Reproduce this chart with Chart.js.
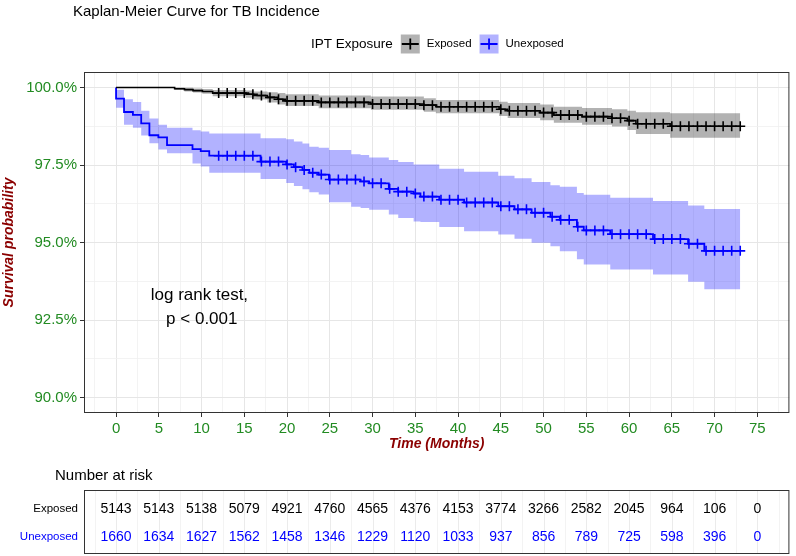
<!DOCTYPE html>
<html>
<head>
<meta charset="utf-8">
<title>Kaplan-Meier Curve for TB Incidence</title>
<script src="https://cdn.jsdelivr.net/npm/chart.js@4.4.1/dist/chart.umd.min.js"></script>
<style>
  html, body { margin: 0; padding: 0; background: #fff; }
  #km { display: block; }
</style>
</head>
<body>
<canvas id="km" width="796" height="556"></canvas>
<script>
// KM steps: time (months) and survival (%)
const exposedTime  = [0, 6.85, 8.0, 9.0, 10.1, 11.3, 15.2, 16.1, 17.7, 18.9, 19.8, 23.7, 29.8, 36.0, 37.4, 44.8, 45.8, 49.6, 51.2, 54.5, 58.0, 59.8, 60.8, 64.8, 73.0];
const exposedSurv  = [100, 99.96, 99.93, 99.90, 99.87, 99.82, 99.78, 99.74, 99.68, 99.62, 99.57, 99.52, 99.47, 99.43, 99.38, 99.30, 99.25, 99.19, 99.11, 99.06, 99.01, 98.93, 98.83, 98.75, 98.75];
const exposedUpper = [100, 100, 99.99, 99.97, 99.95, 99.92, 99.90, 99.87, 99.85, 99.82, 99.78, 99.74, 99.71, 99.65, 99.60, 99.54, 99.50, 99.45, 99.38, 99.34, 99.30, 99.25, 99.20, 99.17, 99.17];
const exposedLower = [100, 99.92, 99.87, 99.84, 99.80, 99.72, 99.67, 99.61, 99.52, 99.45, 99.40, 99.33, 99.28, 99.22, 99.17, 99.08, 99.02, 98.94, 98.86, 98.80, 98.74, 98.63, 98.50, 98.38, 98.38];

const unexposedTime  = [0, 0, 0.93, 1.97, 2.94, 3.90, 4.95, 5.96, 8.94, 9.90, 10.9, 16.9, 19.9, 20.8, 21.8, 22.6, 23.7, 24.9, 27.5, 28.6, 29.6, 31.9, 33.0, 34.8, 35.6, 37.8, 40.7, 44.7, 46.6, 48.6, 50.8, 51.9, 53.9, 54.7, 57.8, 62.8, 66.9, 68.8, 73.0];
const unexposedSurv  = [100, 99.64, 99.21, 99.12, 98.84, 98.46, 98.39, 98.14, 98.01, 97.95, 97.80, 97.61, 97.52, 97.43, 97.34, 97.25, 97.19, 97.03, 97.03, 96.97, 96.91, 96.73, 96.64, 96.58, 96.48, 96.38, 96.29, 96.17, 96.07, 95.96, 95.83, 95.73, 95.51, 95.39, 95.27, 95.11, 94.96, 94.73, 94.73];
const unexposedUpper = [100, 99.93, 99.62, 99.53, 99.25, 99.00, 98.80, 98.70, 98.62, 98.58, 98.52, 98.36, 98.33, 98.26, 98.19, 98.09, 98.06, 97.98, 97.85, 97.82, 97.74, 97.66, 97.60, 97.52, 97.52, 97.38, 97.28, 97.15, 97.07, 96.95, 96.85, 96.80, 96.60, 96.54, 96.44, 96.34, 96.19, 96.08, 96.08];
const unexposedLower = [100, 99.35, 98.80, 98.70, 98.45, 98.20, 98.00, 97.88, 97.55, 97.45, 97.25, 97.05, 96.92, 96.82, 96.72, 96.62, 96.55, 96.30, 96.15, 96.11, 96.06, 95.90, 95.79, 95.68, 95.66, 95.50, 95.36, 95.26, 95.12, 94.99, 94.88, 94.72, 94.46, 94.29, 94.13, 93.97, 93.73, 93.49, 93.49];

// censoring marks (+) appear once a month from month 12
const censorTimes = [12, 13, 14, 15, 16, 17, 18, 19, 20, 21, 22, 23, 24, 25, 26, 27, 28, 29, 30, 31, 32, 33, 34, 35, 36, 37, 38, 39, 40, 41, 42, 43, 44, 45, 46, 47, 48, 49, 50, 51, 52, 53, 54, 55, 56, 57, 58, 59, 60, 61, 62, 63, 64, 65, 66, 67, 68, 69, 70, 71, 72, 73];

// number at risk table
const riskTimes = [0, 5, 10, 15, 20, 25, 30, 35, 40, 45, 50, 55, 60, 65, 70, 75];
const exposedRisk = [5143, 5143, 5138, 5079, 4921, 4760, 4565, 4376, 4153, 3774, 3266, 2582, 2045, 964, 106, 0];
const unexposedRisk = [1660, 1634, 1627, 1562, 1458, 1346, 1229, 1120, 1033, 937, 856, 789, 725, 598, 396, 0];

const xTicks = [0, 5, 10, 15, 20, 25, 30, 35, 40, 45, 50, 55, 60, 65, 70, 75];
const yTicks = [90, 92.5, 95, 97.5, 100];

const FONT = "'Liberation Sans', Arial, sans-serif";
const GREEN = '#228b22';
const DARKRED = '#8b0000';

// gridlines: majors plus the minor lines halfway between
const xGrid = [];
for (let v = -2.5; v <= 77.5; v += 2.5) xGrid.push(v);
const yGrid = [];
for (let v = 90; v <= 100; v += 1.25) yGrid.push(v);

const toPoints = (ts, vs) => ts.map((t, i) => ({ x: t, y: vs[i] }));
const survAt = (ts, vs, t) => {
  let v = vs[0];
  for (let i = 0; i < ts.length; i++) if (ts[i] <= t) v = vs[i];
  return v;
};

const isMajorX = (v) => xTicks.includes(v);
const isMajorY = (v) => yTicks.includes(v);

function drawKey(ctx, x, y, fill, stroke) {
  ctx.fillStyle = fill;
  ctx.fillRect(x, y, 19, 19);
  ctx.strokeStyle = stroke;
  ctx.lineWidth = 1.8;
  ctx.beginPath();
  ctx.moveTo(x + 1, y + 9.5);
  ctx.lineTo(x + 18, y + 9.5);
  ctx.moveTo(x + 9.5, y + 4);
  ctx.lineTo(x + 9.5, y + 15);
  ctx.stroke();
}

const decor = {
  id: 'decor',
  afterDatasetsDraw(chart) {
    const { ctx, chartArea: a } = chart;
    ctx.save();
    ctx.strokeStyle = '#333';
    ctx.lineWidth = 1;
    ctx.strokeRect(a.left + 0.5, a.top + 0.5, a.right - a.left - 1, a.bottom - a.top - 1);
    ctx.restore();
  },
  afterDraw(chart) {
    const { ctx, chartArea: a } = chart;
    const xs = chart.scales.x;
    const ys = chart.scales.y;
    ctx.save();

    // title
    ctx.fillStyle = '#000';
    ctx.textBaseline = 'middle';
    ctx.textAlign = 'left';
    ctx.font = '15px ' + FONT;
    ctx.fillText('Kaplan-Meier Curve for TB Incidence', 73, 12);

    // legend
    let lx = 311;
    const ly = 44;
    ctx.font = '13.5px ' + FONT;
    ctx.fillText('IPT Exposure', lx, ly);
    lx += ctx.measureText('IPT Exposure').width + 8;
    drawKey(ctx, lx, ly - 9.5, 'rgba(0,0,0,0.3)', '#000');
    lx += 19 + 7;
    ctx.font = '11.5px ' + FONT;
    ctx.fillStyle = '#000';
    ctx.fillText('Exposed', lx, ly);
    lx += ctx.measureText('Exposed').width + 8;
    drawKey(ctx, lx, ly - 9.5, 'rgba(0,0,255,0.3)', '#0000ff');
    lx += 19 + 7;
    ctx.font = '11.5px ' + FONT;
    ctx.fillStyle = '#000';
    ctx.fillText('Unexposed', lx, ly);

    // log-rank annotation
    const px = xs.getPixelForValue(9.75);
    const py = ys.getPixelForValue(92.92);
    ctx.font = '17px ' + FONT;
    ctx.textAlign = 'center';
    ctx.fillText('log rank test,', px, py - 12);
    ctx.fillText(' p < 0.001', px, py + 12);

    // number at risk table
    const top = 490, bottom = 553;
    const rowY = [509, 537];
    ctx.textAlign = 'left';
    ctx.font = '15px ' + FONT;
    ctx.fillText('Number at risk', 55, 476);

    ctx.lineWidth = 1;
    xGrid.forEach((v) => {
      const gx = Math.round(xs.getPixelForValue(v)) + 0.5;
      ctx.strokeStyle = isMajorX(v) ? '#ebebeb' : '#f3f3f3';
      ctx.beginPath();
      ctx.moveTo(gx, top);
      ctx.lineTo(gx, bottom);
      ctx.stroke();
    });
    ctx.strokeStyle = '#333';
    ctx.strokeRect(a.left + 0.5, top + 0.5, a.right - a.left - 1, bottom - top);

    ctx.textAlign = 'right';
    ctx.font = '11.5px ' + FONT;
    ctx.fillStyle = '#000';
    ctx.fillText('Exposed', a.left - 6, rowY[0]);
    ctx.fillStyle = '#0000ff';
    ctx.fillText('Unexposed', a.left - 6, rowY[1]);

    ctx.textAlign = 'center';
    ctx.font = '14px ' + FONT;
    riskTimes.forEach((t, i) => {
      const cx = xs.getPixelForValue(t);
      ctx.fillStyle = '#000';
      ctx.fillText(String(exposedRisk[i]), cx, rowY[0]);
      ctx.fillStyle = '#0000ff';
      ctx.fillText(String(unexposedRisk[i]), cx, rowY[1]);
    });
    ctx.restore();
  }
};

const gridColor = (c) => (isMajorX(c.tick.value) ? '#e6e6e6' : '#f0f0f0');

new Chart(document.getElementById('km'), {
  type: 'line',
  data: {
    datasets: [
      {
        label: 'Exposed censored',
        data: censorTimes.map((t) => ({ x: t, y: survAt(exposedTime, exposedSurv, t) })),
        showLine: false,
        pointStyle: 'cross',
        pointRadius: 5,
        borderColor: '#000',
        borderWidth: 1.6,
        order: 0
      },
      {
        label: 'Unexposed censored',
        data: censorTimes.map((t) => ({ x: t, y: survAt(unexposedTime, unexposedSurv, t) })),
        showLine: false,
        pointStyle: 'cross',
        pointRadius: 5,
        borderColor: '#0000ff',
        borderWidth: 1.6,
        order: 0
      },
      {
        label: 'Exposed',
        data: toPoints(exposedTime, exposedSurv),
        stepped: true,
        borderColor: '#000',
        borderWidth: 1.6,
        pointRadius: 0,
        fill: false,
        order: 1
      },
      {
        label: 'Unexposed',
        data: toPoints(unexposedTime, unexposedSurv),
        stepped: true,
        borderColor: '#0000ff',
        borderWidth: 1.8,
        pointRadius: 0,
        fill: false,
        order: 1
      },
      {
        label: 'Exposed upper',
        data: toPoints(exposedTime, exposedUpper),
        stepped: true,
        borderColor: 'rgba(0,0,0,0)',
        borderWidth: 1,
        pointRadius: 0,
        backgroundColor: 'rgba(0,0,0,0.3)',
        fill: '+1',
        order: 5
      },
      {
        label: 'Exposed lower',
        data: toPoints(exposedTime, exposedLower),
        stepped: true,
        borderColor: 'rgba(0,0,0,0)',
        borderWidth: 1,
        pointRadius: 0,
        fill: false,
        order: 6
      },
      {
        label: 'Unexposed upper',
        data: toPoints(unexposedTime, unexposedUpper),
        stepped: true,
        borderColor: 'rgba(0,0,0,0)',
        borderWidth: 1,
        pointRadius: 0,
        backgroundColor: 'rgba(0,0,255,0.3)',
        fill: '+1',
        order: 5
      },
      {
        label: 'Unexposed lower',
        data: toPoints(unexposedTime, unexposedLower),
        stepped: true,
        borderColor: 'rgba(0,0,0,0)',
        borderWidth: 1,
        pointRadius: 0,
        fill: false,
        order: 6
      }
    ]
  },
  options: {
    responsive: false,
    animation: false,
    devicePixelRatio: 1,
    layout: { padding: { left: 0, top: 72, right: 3, bottom: 98 } },
    plugins: {
      legend: { display: false },
      tooltip: { enabled: false },
      title: { display: false }
    },
    scales: {
      x: {
        type: 'linear',
        min: -3.75,
        max: 78.75,
        afterBuildTicks: (s) => { s.ticks = xGrid.map((v) => ({ value: v })); },
        afterFit: (s) => { s.height = 45; },
        border: { display: false },
        grid: {
          color: gridColor,
          lineWidth: (c) => (isMajorX(c.tick.value) ? 1 : 0.8),
          tickLength: 4,
          tickColor: (c) => (isMajorX(c.tick.value) ? '#333' : 'rgba(0,0,0,0)')
        },
        ticks: {
          autoSkip: false,
          maxRotation: 0,
          padding: 3,
          color: GREEN,
          font: { family: FONT, size: 15 },
          callback: (v) => (isMajorX(v) ? String(v) : '')
        },
        title: {
          display: true,
          text: 'Time (Months)',
          color: DARKRED,
          font: { family: FONT, size: 14, weight: 'bold', style: 'italic' },
          padding: { top: 0, bottom: 5 }
        }
      },
      y: {
        min: 89.5,
        max: 100.5,
        afterBuildTicks: (s) => { s.ticks = yGrid.map((v) => ({ value: v })); },
        afterFit: (s) => { s.width = 84; },
        border: { display: false },
        grid: {
          color: (c) => (isMajorY(c.tick.value) ? '#e6e6e6' : '#f0f0f0'),
          lineWidth: (c) => (isMajorY(c.tick.value) ? 1 : 0.8),
          tickLength: 4,
          tickColor: (c) => (isMajorY(c.tick.value) ? '#333' : 'rgba(0,0,0,0)')
        },
        ticks: {
          autoSkip: false,
          padding: 3,
          color: GREEN,
          font: { family: FONT, size: 15 },
          callback: (v) => (isMajorY(v) ? v.toFixed(1) + '%' : '')
        },
        title: {
          display: true,
          text: 'Survival probability',
          color: DARKRED,
          font: { family: FONT, size: 14, weight: 'bold', style: 'italic' },
          padding: { top: 1, bottom: 0 }
        }
      }
    }
  },
  plugins: [decor]
});
</script>
</body>
</html>
